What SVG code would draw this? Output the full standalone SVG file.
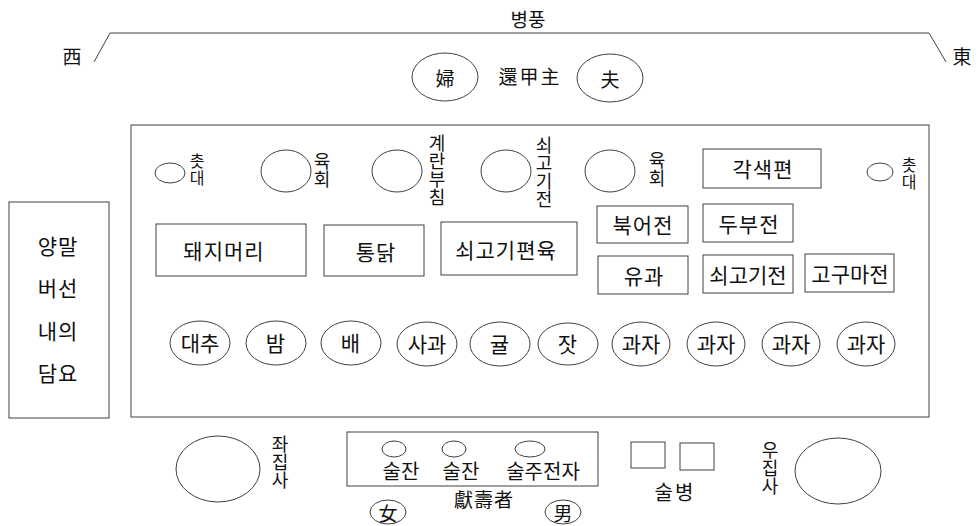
<svg xmlns="http://www.w3.org/2000/svg" width="978" height="526" viewBox="0 0 978 526">
<style>
  .s { fill: none; stroke: #404040; stroke-width: 1; }
  .bx { fill: #fff; stroke: #404040; stroke-width: 1; }
  text { font-family: "Noto Sans CJK KR", "Noto Sans", sans-serif; fill: #111; text-anchor: middle; dominant-baseline: central; }
  .t { font-size: 21px; letter-spacing: 1px; }
  .b { font-size: 20px; }
  .vt { font-size: 18px; letter-spacing: -0.3px; writing-mode: vertical-rl; }
  .vs { font-size: 16px; letter-spacing: 1px; writing-mode: vertical-rl; }
  .h { font-size: 19px; }
</style>
<rect width="978" height="526" fill="#fff"/>

<g id="screen">
  <polyline class="s" points="94,62 110,33 929,33 946,62"/>
  <text class="h" x="528" y="18">병풍</text>
  <text class="h" x="72" y="55">西</text>
  <text class="h" x="962" y="55">東</text>
</g>

<g id="wife">
  <ellipse class="s" cx="445" cy="77" rx="33" ry="24"/>
  <text class="h" x="445" y="77">婦</text>
</g>
<g id="hwangapju"><text class="h" x="530" y="75" style="letter-spacing:2px">還甲主</text></g>
<g id="husband">
  <ellipse class="s" cx="610" cy="78" rx="33" ry="24"/>
  <text class="h" x="610" y="78">夫</text>
</g>

<g id="table"><rect class="bx" x="131" y="125" width="798" height="292"/></g>

<g id="candle-left">
  <ellipse class="s" cx="170" cy="173" rx="15" ry="10"/>
  <text class="vs" x="197" y="170">촛대</text>
</g>
<g id="yukhoe-left">
  <ellipse class="s" cx="286" cy="171" rx="25" ry="21"/>
  <text class="vt" x="322" y="170">육회</text>
</g>
<g id="egg">
  <ellipse class="s" cx="397" cy="171" rx="25" ry="21"/>
  <text class="vt" x="437" y="170">계란부침</text>
</g>
<g id="beefjeon-top">
  <ellipse class="s" cx="506" cy="171" rx="25" ry="21"/>
  <text class="vt" x="544" y="172">쇠고기전</text>
</g>
<g id="yukhoe-right">
  <ellipse class="s" cx="610" cy="171" rx="25" ry="21"/>
  <text class="vt" x="657" y="169">육회</text>
</g>
<g id="gaksaekpyeon">
  <rect class="bx" x="703" y="149" width="118" height="39"/>
  <text class="t" x="763" y="168">각색편</text>
</g>
<g id="candle-right">
  <ellipse class="s" cx="880" cy="172" rx="13" ry="9"/>
  <text class="vs" x="909" y="174">촛대</text>
</g>

<g id="pighead">
  <rect class="bx" x="156" y="224" width="150" height="52"/>
  <text class="t" x="224" y="250">돼지머리</text>
</g>
<g id="chicken">
  <rect class="bx" x="324" y="225" width="100" height="51"/>
  <text class="t" x="376" y="251">통닭</text>
</g>
<g id="pyeonyuk">
  <rect class="bx" x="441" y="222" width="136" height="53"/>
  <text class="t" x="506" y="249">쇠고기편육</text>
</g>
<g id="bugeojeon">
  <rect class="bx" x="597" y="206" width="91" height="37"/>
  <text class="t" x="643" y="224">북어전</text>
</g>
<g id="dubujeon">
  <rect class="bx" x="703" y="204" width="90" height="38"/>
  <text class="t" x="749" y="223">두부전</text>
</g>
<g id="yugwa">
  <rect class="bx" x="598" y="256" width="90" height="38"/>
  <text class="t" x="644" y="275">유과</text>
</g>
<g id="beefjeon">
  <rect class="bx" x="703" y="255" width="90" height="38"/>
  <text class="t" x="748" y="274" style="letter-spacing:0">쇠고기전</text>
</g>
<g id="gogumajeon">
  <rect class="bx" x="805" y="254" width="89" height="38"/>
  <text class="t" x="850" y="273" style="letter-spacing:0">고구마전</text>
</g>

<g id="jujube"><ellipse class="s" cx="200" cy="343" rx="30" ry="22"/><text class="t" x="200" y="342" style="letter-spacing:0">대추</text></g>
<g id="chestnut"><ellipse class="s" cx="276" cy="343" rx="30" ry="22"/><text class="t" x="276" y="342">밤</text></g>
<g id="pear"><ellipse class="s" cx="351" cy="343" rx="30" ry="22"/><text class="t" x="351" y="342">배</text></g>
<g id="apple"><ellipse class="s" cx="427" cy="344" rx="30" ry="22"/><text class="t" x="427" y="343" style="letter-spacing:0">사과</text></g>
<g id="tangerine"><ellipse class="s" cx="500" cy="344" rx="30" ry="22"/><text class="t" x="500" y="343">귤</text></g>
<g id="pinenut"><ellipse class="s" cx="568" cy="344" rx="30" ry="21"/><text class="t" x="568" y="343">잣</text></g>
<g id="cookie1"><ellipse class="s" cx="641" cy="344" rx="29" ry="22"/><text class="t" x="641" y="343" style="letter-spacing:0">과자</text></g>
<g id="cookie2"><ellipse class="s" cx="716" cy="344" rx="29" ry="22"/><text class="t" x="716" y="343" style="letter-spacing:0">과자</text></g>
<g id="cookie3"><ellipse class="s" cx="791" cy="344" rx="29" ry="22"/><text class="t" x="791" y="343" style="letter-spacing:0">과자</text></g>
<g id="cookie4"><ellipse class="s" cx="866" cy="344" rx="29" ry="22"/><text class="t" x="866" y="343" style="letter-spacing:0">과자</text></g>

<g id="gifts">
  <rect class="bx" x="9" y="202" width="100" height="216"/>
  <text class="t" x="58" y="245">양말</text>
  <text class="t" x="58" y="287">버선</text>
  <text class="t" x="58" y="330">내의</text>
  <text class="t" x="58" y="372">담요</text>
</g>

<g id="left-attendant">
  <ellipse class="s" cx="218" cy="469" rx="42" ry="33"/>
  <text class="vt" x="280" y="462">좌집사</text>
</g>

<g id="offering">
  <rect class="bx" x="347" y="432" width="251" height="54"/>
  <ellipse class="s" cx="394" cy="449" rx="12" ry="8"/>
  <ellipse class="s" cx="454" cy="449" rx="12" ry="8"/>
  <ellipse class="s" cx="530" cy="449" rx="15" ry="8"/>
  <text class="b" x="401" y="470">술잔</text>
  <text class="b" x="461" y="470">술잔</text>
  <text class="b" x="543" y="470">술주전자</text>
</g>
<g id="heonsuja">
  <text class="h" x="484" y="498" style="letter-spacing:1px">獻壽者</text>
</g>
<g id="woman">
  <ellipse class="s" cx="388" cy="512" rx="18" ry="12"/>
  <text class="h" x="388" y="512">女</text>
</g>
<g id="man">
  <ellipse class="s" cx="563" cy="512" rx="18" ry="12"/>
  <text class="h" x="563" y="512">男</text>
</g>

<g id="bottles">
  <rect class="bx" x="631" y="442" width="34" height="26"/>
  <rect class="bx" x="680" y="443" width="34" height="27"/>
  <text class="b" x="675" y="491" style="letter-spacing:2px">술병</text>
</g>

<g id="right-attendant">
  <text class="vt" x="770" y="468">우집사</text>
  <ellipse class="s" cx="838" cy="471" rx="43" ry="33"/>
</g>
</svg>
